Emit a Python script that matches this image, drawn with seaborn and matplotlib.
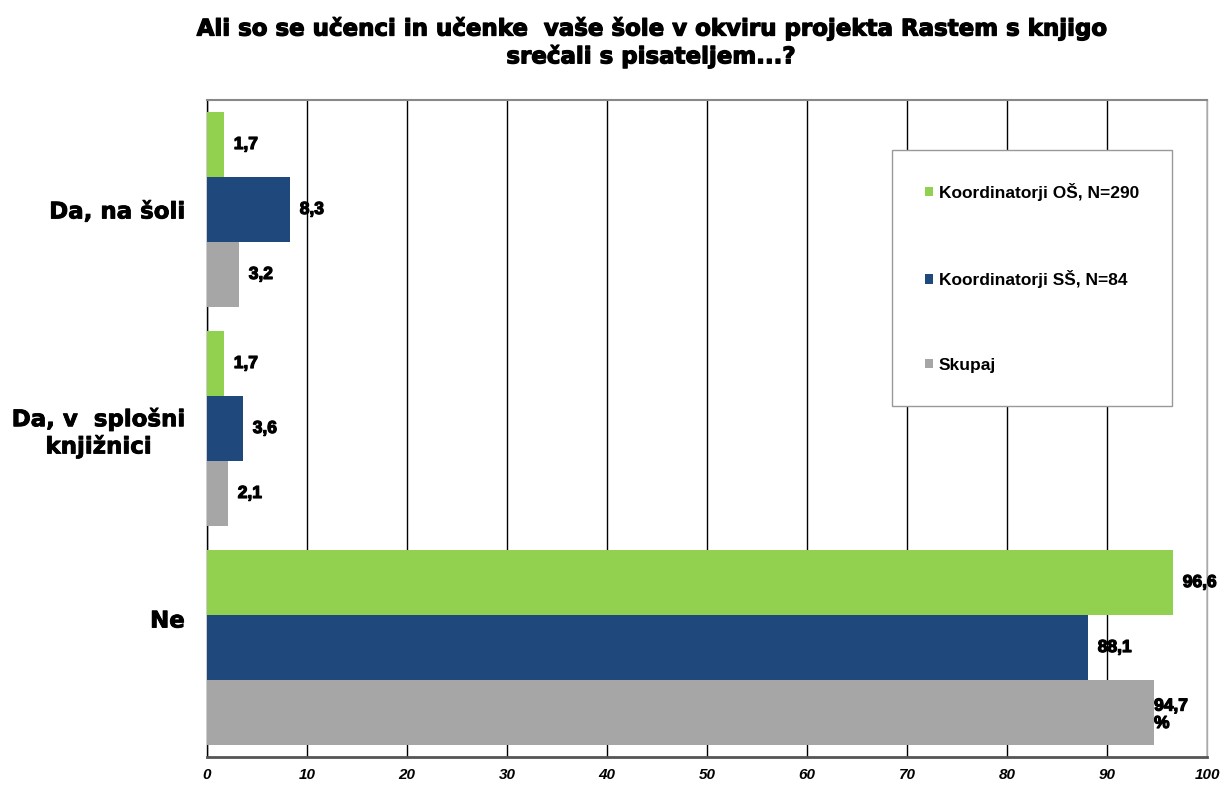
import pandas as pd
import matplotlib.pyplot as plt
import matplotlib.patheffects as pe
from matplotlib.transforms import ScaledTranslation
import seaborn as sns

categories = ['Da, na šoli', 'Da, v  splošni\nknjižnici', 'Ne']
series = ['Koordinatorji OŠ, N=290', 'Koordinatorji SŠ, N=84', 'Skupaj']
os_values = [1.7, 1.7, 96.6]
ss_values = [8.3, 3.6, 88.1]
skupaj_values = [3.2, 2.1, 94.7]
colors = ['#92D050', '#1F497D', '#A6A6A6']
x_ticks = [0, 10, 20, 30, 40, 50, 60, 70, 80, 90, 100]

sns.set_style('white')
plt.rcParams['font.family'] = ['Liberation Sans', 'DejaVu Sans']
plt.rcParams['text.color'] = 'black'
plt.rcParams['xtick.labelcolor'] = 'black'
plt.rcParams['ytick.labelcolor'] = 'black'

heavy = [pe.withStroke(linewidth=0.9, foreground='black')]

rows = []
for name, vals in zip(series, [os_values, ss_values, skupaj_values]):
    for cat, v in zip(categories, vals):
        rows.append({'cat': cat, 'value': v, 'series': name})
df = pd.DataFrame(rows)

fig = plt.figure(figsize=(12.23, 7.87), dpi=100)
ax = fig.add_axes([0.1693, 0.0381, 0.8177, 0.8349])

sns.barplot(data=df, x='value', y='cat', hue='series', orient='h',
            palette=colors, width=0.89, saturation=1, linewidth=0, ax=ax,
            zorder=3)

ax.set_xlim(0, 100)
ax.set_ylim(2.5, -0.5)
ax.set_xticks(x_ticks)
ax.set_xticklabels([str(t) for t in x_ticks], fontsize=11, fontweight='bold',
                   style='italic')
ax.set_yticks([0, 1, 2])
ax.set_yticklabels(categories, fontsize=16.5, fontweight='bold',
                   multialignment='center', family='DejaVu Sans')
ax.tick_params(axis='y', length=0, pad=16)
ax.set_yticks([-0.5, 0.5, 1.5, 2.5], minor=True)
ax.tick_params(axis='y', which='minor', length=6, color='black', width=1,
               direction='out')
ax.tick_params(axis='x', length=5, color='black', width=1, direction='out',
               pad=3)
ax.xaxis.grid(True, color='black', linewidth=1)
ax.set_axisbelow(True)
ax.set_xlabel('')
ax.set_ylabel('')

ax.spines['left'].set_color('black')
ax.spines['left'].set_linewidth(1)
ax.spines['bottom'].set_color('#555555')
ax.spines['bottom'].set_linewidth(2)
ax.spines['top'].set_color('#888888')
ax.spines['top'].set_linewidth(1.5)
ax.spines['right'].set_color('#aaaaaa')
ax.spines['right'].set_linewidth(1)

all_vals = [os_values, ss_values, skupaj_values]
for i, cont in enumerate(ax.containers):
    labels = [f'{v:.1f}'.replace('.', ',') for v in all_vals[i]]
    if i == 2:
        labels[2] = labels[2] + '\n%'
    anns = ax.bar_label(cont, labels=labels, padding=7, fontsize=12.5,
                        fontweight='bold', path_effects=heavy)
    if i == 2:
        anns[2].set_va('top')
        anns[2].xyann = (0, 10)

leg = ax.legend(loc='upper left', bbox_to_anchor=(0.685, 0.924),
                frameon=True, fancybox=False, edgecolor='#999999',
                prop={'weight': 'bold', 'size': 12.5}, labelspacing=4.0,
                handlelength=0.45, handleheight=0.45, handletextpad=0.35,
                borderpad=1.9, borderaxespad=0, framealpha=1)
leg.get_frame().set_linewidth(1)
for t in leg.get_texts():
    t.set_color('black')

fig.text(0.532, 0.979, 'Ali so se učenci in učenke  vaše šole v okviru projekta Rastem s knjigo\nsrečali s pisateljem...?',
         ha='center', va='top', fontsize=16.5, fontweight='bold',
         family='DejaVu Sans', linespacing=1.2, path_effects=heavy)

# y labels: heavier look, and "Ne" sits above the middle of its group
for lab in ax.get_yticklabels():
    lab.set_path_effects([pe.withStroke(linewidth=0.6, foreground='black')])
ne_lab = ax.get_yticklabels()[2]
ne_lab.set_transform(ne_lab.get_transform() +
                     ScaledTranslation(0, 0.29, fig.dpi_scale_trans))

fig.savefig('out.png', dpi=100)
